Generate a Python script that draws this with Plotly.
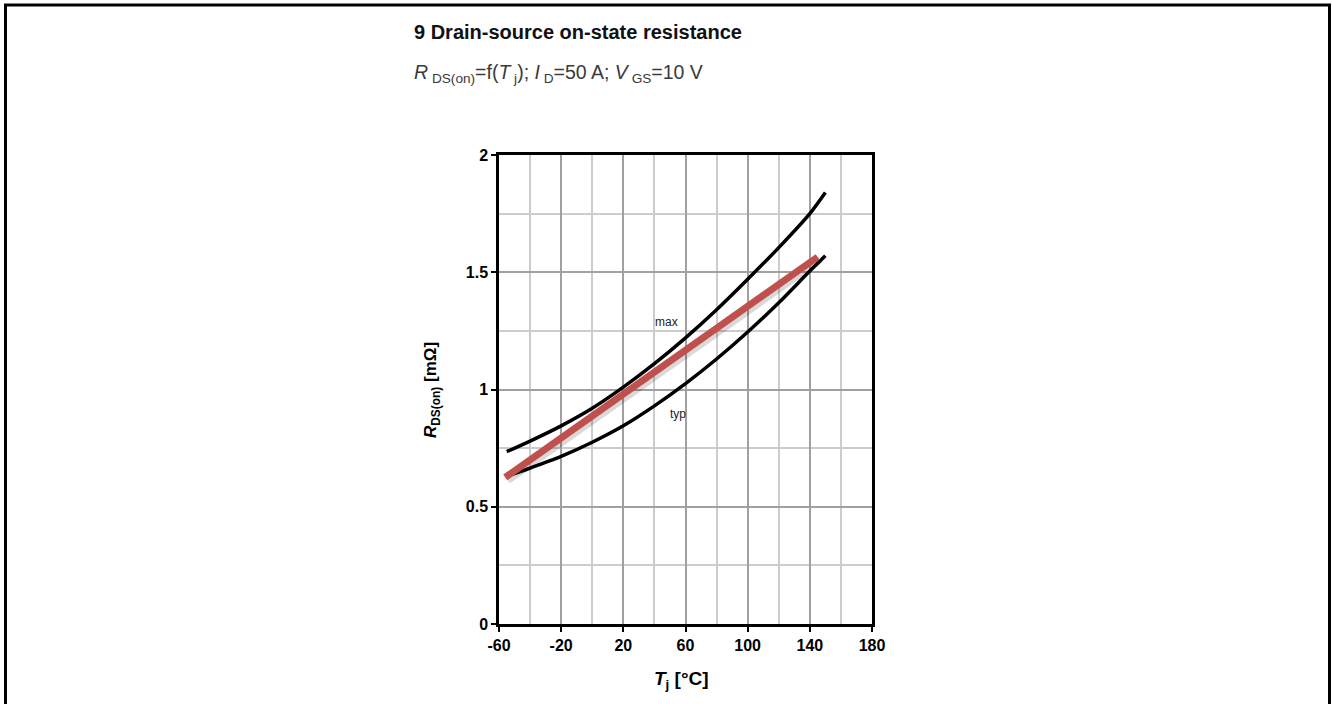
import plotly.graph_objects as go

# Data
tj = [-55, -40, -20, 0, 20, 40, 60, 80, 100, 120, 140, 150]
r_max = [0.735, 0.78, 0.845, 0.92, 1.01, 1.11, 1.22, 1.34, 1.47, 1.605, 1.75, 1.84]
r_typ = [0.63, 0.665, 0.715, 0.775, 0.845, 0.93, 1.025, 1.13, 1.245, 1.37, 1.505, 1.57]
red_tj = [-56, 145]
red_r = [0.625, 1.565]

x_ticks = [-60, -20, 20, 60, 100, 140, 180]
y_ticks = [0, 0.5, 1, 1.5, 2]

FONT = "Liberation Sans, Arial, sans-serif"

fig = go.Figure()
# soft shadow under the red line
fig.add_trace(go.Scatter(x=[t + 1.5 for t in red_tj], y=[v - 0.012 for v in red_r],
                         mode="lines", line=dict(color="rgba(0,0,0,0.15)", width=8),
                         hoverinfo="skip", showlegend=False))
fig.add_trace(go.Scatter(x=tj, y=r_max, mode="lines", name="max",
                         line=dict(color="black", width=3.5, shape="spline", smoothing=0.8)))
fig.add_trace(go.Scatter(x=tj, y=r_typ, mode="lines", name="typ",
                         line=dict(color="black", width=3.5, shape="spline", smoothing=0.8)))
fig.add_trace(go.Scatter(x=red_tj, y=red_r, mode="lines", name="fit",
                         line=dict(color="#c0504d", width=7)))

fig.update_layout(
    width=1332, height=704,
    margin=dict(l=499, r=460, t=155, b=80),
    paper_bgcolor="white", plot_bgcolor="white",
    showlegend=False,
    font=dict(family=FONT, color="black"),
    xaxis=dict(range=[-60, 180], tickmode="array", tickvals=x_ticks,
               ticktext=[f"<b>{v}</b>" for v in x_ticks],
               tickfont=dict(size=16, family=FONT),
               showline=True, linecolor="black", linewidth=2.5, mirror=True,
               ticks="outside", ticklen=5, tickwidth=1.5, tickcolor="black",
               showgrid=True, gridcolor="#a0a0a0", gridwidth=2,
               minor=dict(tickvals=[-40, 0, 40, 80, 120, 160], showgrid=True,
                          gridcolor="#cccccc", gridwidth=2, ticks=""),
               zeroline=False, fixedrange=True),
    yaxis=dict(range=[0, 2], tickmode="array", tickvals=y_ticks,
               ticktext=["<b>0</b>", "<b>0.5</b>", "<b>1</b>", "<b>1.5</b>", "<b>2</b>"],
               tickfont=dict(size=16, family=FONT),
               showline=True, linecolor="black", linewidth=2.5, mirror=True,
               ticks="outside", ticklen=5, tickwidth=1.5, tickcolor="black",
               showgrid=True, gridcolor="#a0a0a0", gridwidth=2,
               minor=dict(tickvals=[0.25, 0.75, 1.25, 1.75], showgrid=True,
                          gridcolor="#cccccc", gridwidth=2, ticks=""),
               zeroline=False, fixedrange=True),
)

W = 373.0
H = 469.0
def px(x):
    return (x - 499) / W
def py(y):
    return (624 - y) / H

annotations = [
    dict(text="<b>9 Drain-source on-state resistance</b>", x=px(412), y=py(32),
         xanchor="left", yanchor="middle", font=dict(size=20, color="#111")),
    dict(text="<i>R</i><sub> DS(on)</sub>=f(<i>T</i><sub> j</sub>); <i>I</i><sub> D</sub>=50 A; <i>V</i><sub> GS</sub>=10 V",
         x=px(412), y=py(73), xanchor="left", yanchor="middle",
         font=dict(size=19.5, color="#3a3a3a")),
    dict(text="<b><i>R</i><sub>DS(on)</sub> [mΩ]</b>", x=px(432), y=py(390),
         textangle=-90, xanchor="center", yanchor="middle", font=dict(size=17)),
    dict(text="<b><i>T</i><sub>j</sub> [°C]</b>", x=px(681), y=py(680),
         xanchor="center", yanchor="middle", font=dict(size=19)),
    dict(text="max", x=48, y=1.29, xref="x", yref="y", xanchor="center",
         yanchor="middle", font=dict(size=12, color="#222")),
    dict(text="typ", x=55, y=0.895, xref="x", yref="y", xanchor="center",
         yanchor="middle", font=dict(size=12, color="#222")),
]
for a in annotations:
    a.setdefault("xref", "paper")
    a.setdefault("yref", "paper")
    a["showarrow"] = False
fig.update_layout(annotations=annotations)

# page frame (left, top, right)
fig.add_shape(type="path", xref="paper", yref="paper",
              path=f"M {px(5.5)} {py(720)} L {px(5.5)} {py(5)} L {px(1329.5)} {py(5)} L {px(1329.5)} {py(720)}",
              line=dict(color="black", width=3))

fig.write_html("out.html", config={"displayModeBar": False},
               post_script="document.body.style.margin='0';document.body.style.overflow='hidden';")
